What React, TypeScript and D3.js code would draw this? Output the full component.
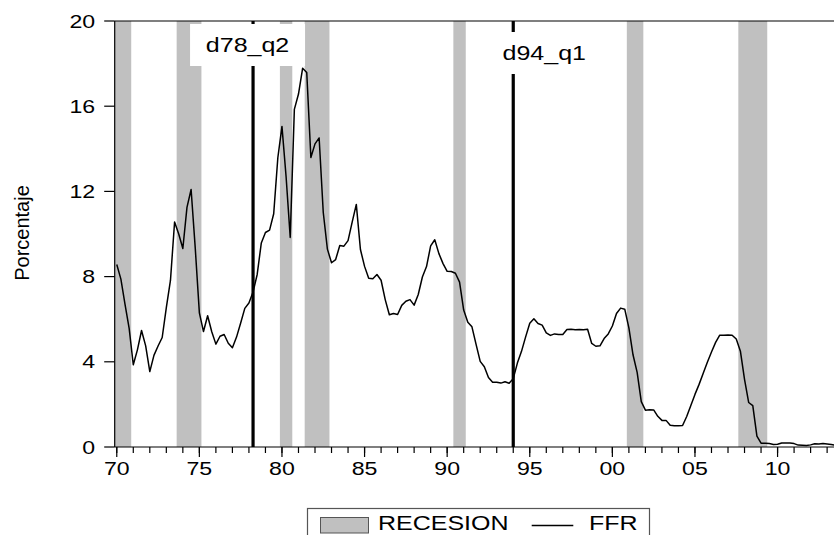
import React from "react";
import * as d3 from "d3";

// Quarterly effective federal funds rate, 1970Q1 onwards (%)
const START_YEAR = 1970;
const ffr: number[] = [
  8.57, 7.88, 6.7, 5.57,
  3.86, 4.56, 5.47, 4.75,
  3.54, 4.3, 4.74, 5.14,
  6.54, 7.82, 10.56, 10.0,
  9.32, 11.25, 12.09, 9.35,
  6.3, 5.42, 6.16, 5.41,
  4.83, 5.2, 5.28, 4.87,
  4.66, 5.16, 5.82, 6.51,
  6.76, 7.28, 8.1, 9.58,
  10.07, 10.18, 10.95, 13.58,
  15.05, 12.69, 9.84, 15.85,
  16.57, 17.78, 17.58, 13.59,
  14.23, 14.51, 11.01, 9.29,
  8.65, 8.8, 9.46, 9.43,
  9.69, 10.56, 11.39, 9.27,
  8.48, 7.92, 7.9, 8.1,
  7.83, 6.92, 6.21, 6.27,
  6.22, 6.65, 6.84, 6.92,
  6.66, 7.16, 7.98, 8.47,
  9.44, 9.73, 9.08, 8.61,
  8.25, 8.24, 8.16, 7.74,
  6.43, 5.86, 5.64, 4.82,
  4.02, 3.77, 3.26, 3.04,
  3.04, 3.0, 3.06, 2.99,
  3.21, 3.94, 4.49, 5.17,
  5.81, 6.02, 5.8, 5.72,
  5.36, 5.24, 5.31, 5.28,
  5.28, 5.52, 5.53, 5.51,
  5.52, 5.5, 5.53, 4.86,
  4.73, 4.75, 5.09, 5.31,
  5.68, 6.27, 6.52, 6.47,
  5.59, 4.33, 3.5, 2.13,
  1.73, 1.75, 1.74, 1.44,
  1.25, 1.25, 1.02, 1.0,
  1.0, 1.01, 1.43, 1.95,
  2.47, 2.94, 3.46, 3.98,
  4.46, 4.91, 5.25, 5.25,
  5.26, 5.25, 5.07, 4.5,
  3.18, 2.09, 1.94, 0.51,
  0.18, 0.18, 0.16, 0.12,
  0.13, 0.19, 0.19, 0.19,
  0.16, 0.09, 0.08, 0.07,
  0.1, 0.15, 0.14, 0.16,
  0.14, 0.12, 0.08, 0.09,
];

// Recessions: [first quarter, last quarter] as year + (q-1)/4
const recessionStart: number[] = [1970.0, 1973.75, 1980.0, 1981.5, 1990.5, 2001.0, 2007.75];
const recessionEnd: number[] = [1970.75, 1975.0, 1980.5, 1982.75, 1991.0, 2001.75, 2009.25];

// Event markers
const eventLabels: string[] = ["d78_q2", "d94_q1"];
const eventTimes: number[] = [1978.25, 1994.0];

const yTicks: number[] = [0, 4, 8, 12, 16, 20];
const xMajorTicks: number[] = [1970, 1975, 1980, 1985, 1990, 1995, 2000, 2005, 2010];
const xMinorTicks: number[] = d3.range(1970, 2014);

const legendLabels: string[] = ["RECESION", "FFR"];

const W = 834;
const H = 535;
const FONT = "'Liberation Sans', Arial, Helvetica, sans-serif";
const SX = 1.25;

// label box layout (dx of text center from line, box top)
const eventBox = [
  { dx: -5.5, top: 24 },
  { dx: 31, top: 32 },
];

export default function App() {
  const left = 114.7;
  const top = 21;
  const bottom = 447;
  const pxPerYear = 16.52;
  const domain0 = 1969.875;
  const domain1 = START_YEAR + ffr.length / 4 - 0.125;
  const x = d3
    .scaleLinear()
    .domain([domain0, domain1])
    .range([left, left + (domain1 - domain0) * pxPerYear]);
  const y = d3.scaleLinear().domain([0, 20]).range([bottom, top]);

  const pts = ffr.map((v, i) => [START_YEAR + i / 4, v] as [number, number]);
  const line = d3
    .line<[number, number]>()
    .x((d) => x(d[0]))
    .y((d) => y(d[1]));

  const right = x.range()[1];

  return (
    <svg
      width={W}
      height={H}
      style={{ position: "absolute", left: 0, top: 0, background: "#fff" }}
      fontFamily={FONT}
    >
      <defs>
        <clipPath id="plot">
          <rect x={left} y={top} width={right - left} height={bottom - top} />
        </clipPath>
      </defs>
      <rect x={0} y={0} width={W} height={H} fill="#fff" />
      {/* recession bands */}
      <g clipPath="url(#plot)">
        {recessionStart.map((s, i) => (
          <rect
            key={i}
            x={x(s - 0.125)}
            y={top}
            width={x(recessionEnd[i] + 0.125) - x(s - 0.125)}
            height={bottom - top}
            fill="#c0c0c0"
          />
        ))}
        {/* event lines */}
        {eventTimes.map((t, i) => (
          <line
            key={i}
            x1={x(t)}
            x2={x(t)}
            y1={top}
            y2={bottom}
            stroke="#000"
            strokeWidth={3.2}
          />
        ))}
        <path d={line(pts) || ""} fill="none" stroke="#000" strokeWidth={1.5} strokeLinejoin="round" />
      </g>
      {/* event label boxes */}
      {eventTimes.map((t, i) => {
        const cx = x(t) + eventBox[i].dx;
        const bt = eventBox[i].top;
        return (
          <g key={i}>
            <rect x={cx - 57.5} y={bt} width={115} height={42} fill="#fff" />
            <text
              transform={`translate(${cx},${bt + 28}) scale(${SX},1)`}
              textAnchor="middle"
              fontSize={20}
              fill="#000"
            >
              {eventLabels[i]}
            </text>
          </g>
        );
      })}
      {/* frame */}
      <line x1={left} x2={right} y1={top} y2={top} stroke="#000" strokeWidth={1.2} />
      <line x1={left} x2={left} y1={top} y2={bottom} stroke="#000" strokeWidth={1.2} />
      <line x1={left} x2={right} y1={bottom} y2={bottom} stroke="#000" strokeWidth={1.2} />
      {/* y ticks */}
      {yTicks.map((v) => (
        <g key={v}>
          <line x1={left - 10.5} x2={left} y1={y(v)} y2={y(v)} stroke="#000" strokeWidth={1.2} />
          <text
            transform={`translate(${left - 19.5},${y(v) + 6.5}) scale(${SX},1)`}
            textAnchor="end"
            fontSize={18.5}
            fill="#000"
          >
            {v}
          </text>
        </g>
      ))}
      {/* x ticks */}
      {xMinorTicks.map((t) => (
        <line key={t} x1={x(t)} x2={x(t)} y1={bottom} y2={bottom + 6} stroke="#000" strokeWidth={1.2} />
      ))}
      {xMajorTicks.map((t) => (
        <g key={t}>
          <line x1={x(t)} x2={x(t)} y1={bottom} y2={bottom + 10} stroke="#000" strokeWidth={1.2} />
          <text
            transform={`translate(${x(t)},${bottom + 28}) scale(${SX},1)`}
            textAnchor="middle"
            fontSize={18.5}
            fill="#000"
          >
            {d3.format("02d")(t % 100)}
          </text>
        </g>
      ))}
      {/* y axis title */}
      <text
        transform={`translate(29,233) rotate(-90)`}
        textAnchor="middle"
        fontSize={20}
        fill="#000"
      >
        Porcentaje
      </text>
      {/* legend */}
      <g>
        <rect x={307.5} y={508.5} width={342} height={40} fill="#fff" stroke="#555" strokeWidth={1.2} />
        <rect x={320.5} y={517.5} width={48} height={15.5} fill="#c0c0c0" stroke="#555" strokeWidth={1} />
        <text transform={`translate(378,530) scale(${SX},1)`} fontSize={20} fill="#000">
          {legendLabels[0]}
        </text>
        <line x1={531.7} x2={573.3} y1={525.5} y2={525.5} stroke="#000" strokeWidth={1.5} />
        <text transform={`translate(589,530) scale(${SX},1)`} fontSize={20} fill="#000">
          {legendLabels[1]}
        </text>
      </g>
    </svg>
  );
}
